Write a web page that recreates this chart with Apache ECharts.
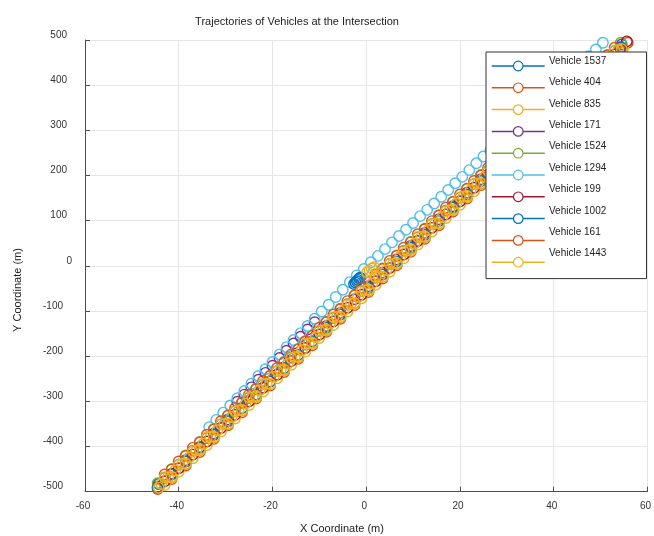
<!DOCTYPE html>
<html>
<head>
<meta charset="utf-8">
<script src="https://cdn.jsdelivr.net/npm/echarts@6/dist/echarts.min.js"></script>
<style>html,body{margin:0;padding:0;background:#fff}#c{width:654px;height:536px}</style>
</head>
<body>
<div id="c"></div>
<script>
const vehicleNames = ['Vehicle 1537','Vehicle 404','Vehicle 835','Vehicle 171','Vehicle 1524','Vehicle 1294','Vehicle 199','Vehicle 1002','Vehicle 161','Vehicle 1443'];
const xTicks = [-60,-40,-20,0,20,40,60];
const yTicks = [-500,-400,-300,-200,-100,0,100,200,300,400,500];

const v1537 = [[-44.3,-483],[-43,-469],[-40,-440],[-37,-410],[-34,-381],[-31,-351],[-28,-322],[-25,-292],[-22,-262],[-19,-233],[-16,-203],[-13,-174],[-10,-144],[-7,-115],[-4,-85],[-1,-56],[2,-26],[5,4],[8,33],[11,63],[14,92],[17,122],[20,151],[23,181],[26,210],[29,240],[32,270],[35,299],[38,329],[41,358],[44,388],[47,417],[50,447],[53,476],[54.5,490]];
const v404 = [[-44.5,-494],[-41.5,-472],[-38.5,-442],[-35.5,-412],[-32.5,-383],[-29.5,-353],[-26.5,-324],[-23.5,-294],[-20.5,-265],[-17.5,-235],[-14.5,-206],[-11.5,-176],[-8.5,-146],[-5.5,-117],[-2.5,-87],[0.5,-58],[3.5,-28],[6.5,1],[9.5,31],[12.5,60],[15.5,90],[18.5,120],[21.5,149],[24.5,179],[27.5,208],[30.5,238],[33.5,267],[36.5,297],[39.5,326],[42.5,356],[45.5,386],[48.5,415],[51.5,445],[54.5,474],[55.8,494]];
const v835a = [[-43,-485],[-40,-456],[-37,-426],[-34,-397],[-31,-367],[-28,-338],[-25,-308],[-22,-278],[-19,-249],[-16,-219],[-13,-190],[-10,-160],[-7,-131],[-4,-101],[-1,-72],[2,-42],[5,-13],[8,17],[11,47],[14,76],[17,106],[20,135],[23,165],[26,194],[29,224],[32,254],[35,283],[38,313],[41,342],[44,372],[47,401],[50,431],[53,460],[54.8,482]];
const v835b = [[-41.5,-469],[-38.5,-439],[-35.5,-409],[-32.5,-380],[-29.5,-350],[-26.5,-321],[-23.5,-291],[-20.5,-262],[-17.5,-232],[-14.5,-203],[-11.5,-173],[-8.5,-143],[-5.5,-114],[-2.5,-84],[0.5,-55],[3.5,-25],[6.5,4],[9.5,34],[12.5,63],[15.5,93],[18.5,123],[21.5,152],[24.5,182],[27.5,211],[30.5,241],[33.5,270],[36.5,300],[39.5,329],[42.5,359],[45.5,389],[48.5,418],[51.5,448],[54.5,477]];
const v171 = [[-44.5,-489],[-41.5,-460],[-38.5,-430],[-35.5,-401],[-32.5,-371],[-29.5,-340],[-27.5,-301],[-26.0,-285],[-24.5,-269],[-23.0,-252],[-21.5,-237],[-20.0,-221],[-18.5,-204],[-17.0,-188],[-15.5,-172],[-14.0,-157],[-12.5,-141],[-11.0,-125],[-8.5,-133],[-5.5,-104],[-2.5,-74],[0.5,-45],[3.5,-15],[6.5,14],[9.5,44],[12.5,73],[15.5,103],[18.5,132],[21.5,162],[24.5,192],[27.5,221],[30.5,251],[33.5,280],[36.5,310],[39.5,339],[42.5,369],[45.5,398],[48.5,428],[51.5,458],[54.2,484]];
const v1524 = [[-44.5,-481],[-41.5,-450],[-38.5,-420],[-35.5,-390],[-32.5,-361],[-29.5,-331],[-26.5,-302],[-23.5,-272],[-20.5,-243],[-17.5,-213],[-14.5,-184],[-11.5,-154],[-8.5,-124],[-5.5,-95],[-2.5,-65],[0.5,-36],[3.5,-6],[6.5,23],[9.5,53],[12.5,82],[15.5,112],[18.5,142],[21.5,171],[24.5,201],[27.5,230],[30.5,260],[33.5,289],[36.5,319],[39.5,348],[42.5,378],[45.5,408],[48.5,437],[51.5,467],[54.3,494]];
const v1294 = [[-33.5,-357],[-32,-341],[-30.5,-325],[-29,-309],[-27.5,-293],[-26,-277],[-24.5,-261],[-23,-244],[-21.5,-229],[-20,-213],[-18.5,-196],[-17,-180],[-15.5,-164],[-14,-149],[-12.5,-133],[-11,-117],[-9.5,-101],[-8,-86],[-6.5,-69],[-5,-53],[-3.5,-36],[-2,-21],[-0.5,-7],[1,8],[2.5,22],[4,37],[5.5,52],[7,66],[8.5,80],[10,95],[11.5,110],[13,124],[14.5,138],[16,153],[17.5,168],[19,183],[20.5,197],[22,212],[23.5,227],[25,242],[26.5,256],[28,271],[29.5,286],[31,302],[32.5,316],[34,331],[35.5,346],[37,361],[38.5,376],[40,390],[41.5,405],[43,420],[44.5,435],[46,449],[47.5,464],[49,479],[50.5,494]];
const v199 = [[-43,-477],[-40,-448],[-37,-418],[-34,-389],[-31,-359],[-28,-330],[-25,-300],[-22,-270],[-19,-241],[-16,-211],[-13,-182],[-10,-152],[-7,-123],[-4,-93],[-1,-64],[2,-34],[5,-5],[8,25],[11,55],[14,84],[17,114],[20,143],[23,173],[26,202],[29,232],[32,262],[35,291],[38,321],[41,350],[44,380],[47,409],[50,439],[53,468],[55.6,497]];
const v1002 = [[-44.5,-491],[-41.5,-462],[-38.5,-433],[-35.5,-403],[-32.5,-374],[-29.5,-344],[-26.5,-315],[-23.5,-285],[-20.5,-256],[-17.5,-226],[-14.5,-197],[-11.5,-167],[-8.5,-137],[-5.5,-108],[-2.6,-40],[-2.3,-37],[-2.0,-34],[-1.8,-31],[-1.5,-28],[-1.3,-26],[0.5,-49],[3.5,-19],[6.5,10],[9.5,40],[12.5,69],[15.5,99],[18.5,129],[21.5,158],[24.5,188],[27.5,217],[30.5,247],[33.5,276],[36.5,306],[39.5,335],[42.5,365],[45.5,395],[48.5,424],[51.5,454],[54.5,483]];
const v161a = [[-43,-462],[-40,-433],[-37,-403],[-34,-374],[-31,-344],[-28,-315],[-25,-285],[-22,-255],[-19,-226],[-16,-196],[-13,-167],[-10,-137],[-7,-108],[-4,-78],[-1,-49],[2,-19],[5,11],[8,40],[11,70],[14,99],[17,129],[20,158],[23,188],[26,217],[29,247],[32,277],[35,306],[38,336],[41,365],[44,395],[47,424],[50,454],[53,483]];
const v161b = [[-41.5,-451],[-38.5,-421],[-35.5,-391],[-32.5,-362],[-29.5,-332],[-26.5,-303],[-23.5,-273],[-20.5,-244],[-17.5,-214],[-14.5,-185],[-11.5,-155],[-8.5,-125],[-5.5,-96],[-2.5,-66],[0.5,-37],[3.5,-7],[6.5,22],[9.5,52],[12.5,81],[15.5,111],[18.5,141],[21.5,170],[24.5,200],[27.5,229],[30.5,259],[33.5,288],[36.5,318],[39.5,347],[42.5,377],[45.5,407],[48.5,436],[51.5,466]];
const v1443a = [[-44.3,-491],[-43,-468],[-41.5,-467],[-40,-440],[-38.5,-438],[-37,-411],[-35.5,-406],[-34,-380],[-32.5,-378],[-31,-351],[-29.5,-349],[-28,-322],[-26.5,-319],[-25,-291],[-23.5,-288],[-22,-262],[-20.5,-261],[-19,-233],[-17.5,-230],[-16,-204],[-14.5,-201],[-13,-173],[-11.5,-170],[-10,-144],[-8.5,-141],[-7,-114],[-5.5,-113],[-4,-86],[-2.5,-82],[-1,-56],[0.2,-14],[0.7,-10],[1.2,-6],[1.7,-3],[0.5,-52],[2,-25],[3.5,-24],[5,4],[6.5,6],[8,32],[9.5,37],[11,64],[12.5,65],[14,92],[15.5,94],[17,121],[18.5,125],[20,152],[21.5,155],[23,181],[24.5,183],[26,210],[27.5,213],[29,239],[30.5,242],[32,271],[33.5,273],[35,299],[36.5,302],[38,328],[39.5,330],[41,358],[42.5,361],[44,389],[45.5,392],[47,417],[48.5,419],[50,446],[51.5,450],[53,476],[54.5,480]];
const v1443b = [[-43.75,-483],[-42.25,-468],[-40.75,-453],[-39.25,-438],[-37.75,-424],[-36.25,-409],[-34.75,-394],[-33.25,-379],[-31.75,-364],[-30.25,-350],[-28.75,-335],[-27.25,-320],[-25.75,-305],[-24.25,-291],[-22.75,-276],[-21.25,-261],[-19.75,-246],[-18.25,-231],[-16.75,-217],[-15.25,-202],[-13.75,-187],[-12.25,-172],[-10.75,-158],[-9.25,-143],[-7.75,-128],[-6.25,-113],[-4.75,-98],[-3.25,-84],[-1.75,-69],[-0.25,-54],[1.25,-39],[2.75,-25],[4.25,-10],[5.75,5],[7.25,20],[8.75,34],[10.25,49],[11.75,64],[13.25,79],[14.75,94],[16.25,108],[17.75,123],[19.25,138],[20.75,153],[22.25,167],[23.75,182],[25.25,197],[26.75,212],[28.25,227],[29.75,241],[31.25,256],[32.75,271],[34.25,286],[35.75,300],[37.25,315],[38.75,330],[40.25,345],[41.75,360],[43.25,374],[44.75,389],[46.25,404],[47.75,419],[49.25,433],[50.75,448],[52.25,463],[53.75,478]];

const vehicleData = [v1537, v404, v835a.concat(v835b), v171, v1524, v1294, v199, v1002, v161a.concat(v161b), v1443a.concat(v1443b)];
const colors = ['#0072BD','#D95319','#EDB120','#7E2F8E','#77AC30','#4DBEEE','#A2142F','#0072BD','#D95319','#EDB120'];

const FONT = '"Liberation Sans", Arial, Helvetica, sans-serif';
const chart = echarts.init(document.getElementById('c'), null, {renderer: 'canvas'});

const series = vehicleNames.map((name, i) => ({
  name: name,
  type: 'line',
  data: vehicleData[i],
  symbol: 'circle',
  symbolSize: 10.5,
  showAllSymbol: true,
  color: colors[i],
  itemStyle: {color: 'transparent', borderColor: colors[i], borderWidth: 1.4},
  lineStyle: {color: colors[i], width: 1, opacity: 0},
  emphasis: {disabled: true},
  animation: false
}));

const labelFont = {fontFamily: FONT, fontSize: 10, color: '#333'};

chart.setOption({
  animation: false,
  backgroundColor: '#fff',
  title: {
    text: 'Trajectories of Vehicles at the Intersection',
    left: 292, top: 11, textAlign: 'center',
    textStyle: {fontFamily: FONT, fontSize: 11, fontWeight: 'normal', color: '#222'}
  },
  grid: {left: 85, right: -5, top: 40, bottom: 44.3, containLabel: false},
  xAxis: {
    type: 'value', min: xTicks[0], max: xTicks[xTicks.length - 1], interval: 20,
    axisLine: {show: true, onZero: false, lineStyle: {color: '#4d4d4d', width: 1}},
    axisTick: {show: true, inside: true, length: 5, lineStyle: {color: '#4d4d4d'}},
    splitLine: {show: true, lineStyle: {color: '#e6e6e6', width: 1}},
    axisLabel: Object.assign({margin: 10, padding: [0, 4, 0, 0], formatter: v => String(v)}, labelFont)
  },
  yAxis: {
    type: 'value', min: yTicks[0], max: yTicks[yTicks.length - 1], interval: 100,
    axisLine: {show: true, onZero: false, lineStyle: {color: '#4d4d4d', width: 1}},
    axisTick: {show: true, inside: true, length: 5, lineStyle: {color: '#4d4d4d'}},
    splitLine: {show: true, lineStyle: {color: '#e6e6e6', width: 1}},
    axisLabel: Object.assign({
      margin: 13,
      formatter: v => v < 0 ? '{n|' + v + '}' : (v === 0 ? '{z|0}' : '{p|' + v + '}'),
      rich: {
        n: Object.assign({padding: [0, 9, 10, 0]}, labelFont),
        p: Object.assign({padding: [0, 5, 10, 0]}, labelFont),
        z: Object.assign({padding: [0, 0, 10, 0]}, labelFont)
      }
    }, labelFont)
  },
  legend: [
    {
      orient: 'vertical', left: 486, top: 52,
      backgroundColor: '#fff', borderColor: '#333', borderWidth: 1, borderRadius: 0,
      padding: [8, 101, 11, 5],
      itemWidth: 53, itemHeight: 12, itemGap: 10.4,
      selectedMode: false,
      data: vehicleNames,
      formatter: () => '',
      lineStyle: {opacity: 1, width: 1.5},
      itemStyle: {color: '#fff', borderWidth: 1.2},
      textStyle: {fontFamily: FONT, fontSize: 10, color: '#222'}
    },
    {
      orient: 'vertical', left: 544, top: 55,
      padding: 0, z: 10,
      icon: 'none',
      itemWidth: 0, itemHeight: 12, itemGap: 10.4,
      selectedMode: false,
      data: vehicleNames,
      textStyle: {fontFamily: FONT, fontSize: 10, color: '#222'}
    }
  ],
  graphic: [
    {type: 'text', x: 342, y: 529, style: {text: 'X Coordinate (m)', align: 'center', verticalAlign: 'middle', font: '11px ' + FONT, fill: '#222'}, silent: true},
    {type: 'text', x: 18, y: 290, rotation: Math.PI / 2, style: {text: 'Y Coordinate (m)', align: 'center', verticalAlign: 'middle', font: '11px ' + FONT, fill: '#222'}, silent: true}
  ],
  series: series
});
</script>
</body>
</html>
